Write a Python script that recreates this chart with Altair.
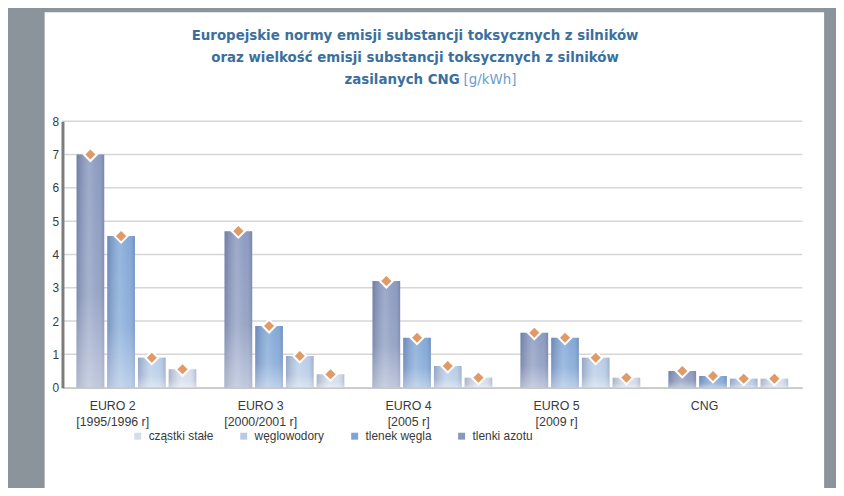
import altair as alt
import pandas as pd

# ---------------- data ----------------
GROUPS = ["EURO 2|[1995/1996 r]", "EURO 3|[2000/2001 r]", "EURO 4|[2005 r]", "EURO 5|[2009 r]", "CNG"]
SERIES = ["cząstki stałe", "węglowodory", "tlenek węgla", "tlenki azotu"]   # legend order
BAR_ORDER = ["tlenki azotu", "tlenek węgla", "węglowodory", "cząstki stałe"]  # order inside a group
TLENKI_AZOTU = [7.0, 4.7, 3.2, 1.65, 0.5]
TLENEK_WEGLA = [4.55, 1.85, 1.5, 1.5, 0.35]
WEGLOWODORY = [0.9, 0.95, 0.65, 0.9, 0.27]
CZASTKI_STALE = [0.55, 0.4, 0.3, 0.3, 0.27]
Y_TICKS = [0, 1, 2, 3, 4, 5, 6, 7, 8]
TITLE_LINES = [
    "Europejskie normy emisji substancji toksycznych z silników",
    "oraz wielkość emisji substancji toksycznych z silników",
    "zasilanych CNG",
]
TITLE_UNIT = "[g/kWh]"
COLORS = ["#d3dcea", "#b6cbe6", "#7ea5d6", "#8797bd"]

values = {
    "tlenki azotu": TLENKI_AZOTU,
    "tlenek węgla": TLENEK_WEGLA,
    "węglowodory": WEGLOWODORY,
    "cząstki stałe": CZASTKI_STALE,
}
rows = []
for s in BAR_ORDER:
    for g, v in zip(GROUPS, values[s]):
        rows.append({"grupa": g, "seria": s, "wartosc": v})
df = pd.DataFrame(rows)

W, H = 747, 269
LABEL_FONT = "Liberation Sans"
TITLE_FONT = "'DejaVu Sans Condensed', sans-serif"

yscale = alt.Scale(domain=[0, 8], nice=False)
xscale = alt.Scale(paddingInner=0.17, paddingOuter=0.085)
xoff_scale = alt.Scale(paddingInner=0.1, paddingOuter=0.05)

y_axis = alt.Axis(
    title=None, values=Y_TICKS, grid=False, ticks=False, labelPadding=4,
    labelFont=LABEL_FONT, labelFontSize=12, labelColor="#3a3a3a",
    domainColor="#7c7c7c", domainWidth=3, zindex=1,
)

one = pd.DataFrame({"a": [0]})

# white panel behind everything
panel = alt.Chart(one).mark_rect(color="white").encode(
    x=alt.value(-18), x2=alt.value(769), y=alt.value(-110), y2=alt.value(380)
)

# grid lines
grid = alt.Chart(pd.DataFrame({"wartosc": Y_TICKS})).mark_rule(color="#d6d6d6", strokeWidth=1.5).encode(
    y=alt.Y("wartosc:Q", scale=yscale, axis=y_axis)
)

base = alt.Chart(df).encode(
    x=alt.X(
        "grupa:N", sort=GROUPS, scale=xscale,
        axis=alt.Axis(
            title=None, labelExpr="split(datum.label, '|')", labelAngle=0,
            labelFont=LABEL_FONT, labelFontSize=12.5, labelColor="#3a3a3a",
            labelPadding=12, labelOffset=-24, labelLineHeight=16, ticks=False,
            domainColor="#c8c8c8", domainWidth=1.5, zindex=1,
        ),
    ),
    xOffset=alt.XOffset("seria:N", sort=BAR_ORDER, scale=xoff_scale),
    y=alt.Y("wartosc:Q", scale=yscale, axis=y_axis),
)

bars = base.mark_bar().encode(
    color=alt.Color(
        "seria:N", scale=alt.Scale(domain=SERIES, range=COLORS),
        legend=alt.Legend(
            orient="none", legendX=70, legendY=312, direction="horizontal", title=None,
            symbolType="square", symbolSize=49, symbolStrokeWidth=0,
            labelFont=LABEL_FONT, labelFontSize=12, labelColor="#3a3a3a",
            columnPadding=24, padding=0, labelOffset=5,
        ),
    )
)

shade_h = base.mark_bar(
    color=alt.Gradient(
        gradient="linear", x1=0, x2=1, y1=0, y2=0,
        stops=[
            alt.GradientStop(color="rgba(50,60,110,0.28)", offset=0),
            alt.GradientStop(color="rgba(255,255,255,0.18)", offset=0.45),
            alt.GradientStop(color="rgba(255,255,255,0.05)", offset=0.75),
            alt.GradientStop(color="rgba(50,60,110,0.22)", offset=1),
        ],
    )
)
shade_v = base.mark_bar(
    color=alt.Gradient(
        gradient="linear", x1=0, x2=0, y1=0, y2=1,
        stops=[
            alt.GradientStop(color="rgba(255,255,255,0)", offset=0),
            alt.GradientStop(color="rgba(255,255,255,0.1)", offset=0.6),
            alt.GradientStop(color="rgba(255,255,255,0.45)", offset=1),
        ],
    )
)

diamonds = base.mark_point(
    shape="diamond", filled=True, fill="#e09a68", stroke="white", strokeWidth=2,
    size=170, opacity=1,
)

tkw = dict(font=TITLE_FONT, fontSize=15, fontWeight="bold", color="#3b6f9e", baseline="middle")
t1 = alt.Chart(one).mark_text(align="center", **tkw).encode(
    x=alt.value(356), y=alt.value(-87), text=alt.value(TITLE_LINES[0]))
t2 = alt.Chart(one).mark_text(align="center", **tkw).encode(
    x=alt.value(356), y=alt.value(-65), text=alt.value(TITLE_LINES[1]))
t3 = alt.Chart(one).mark_text(align="right", **tkw).encode(
    x=alt.value(401), y=alt.value(-43), text=alt.value(TITLE_LINES[2]))
t4 = alt.Chart(one).mark_text(
    align="left", font=TITLE_FONT, fontSize=15, color="#6a9ccc", baseline="middle"
).encode(x=alt.value(405), y=alt.value(-43), text=alt.value(TITLE_UNIT))

chart = alt.layer(panel, grid, bars, shade_h, shade_v, diamonds, t1, t2, t3, t4).properties(
    width=W, height=H,
    padding={"left": 55, "top": 112, "right": 34, "bottom": 99},
    autosize=alt.AutoSizeParams(type="none"),
    background="#8b939b",
).configure_view(stroke=None)

chart.save("out.html", embed_options={"renderer": "svg", "actions": False})
